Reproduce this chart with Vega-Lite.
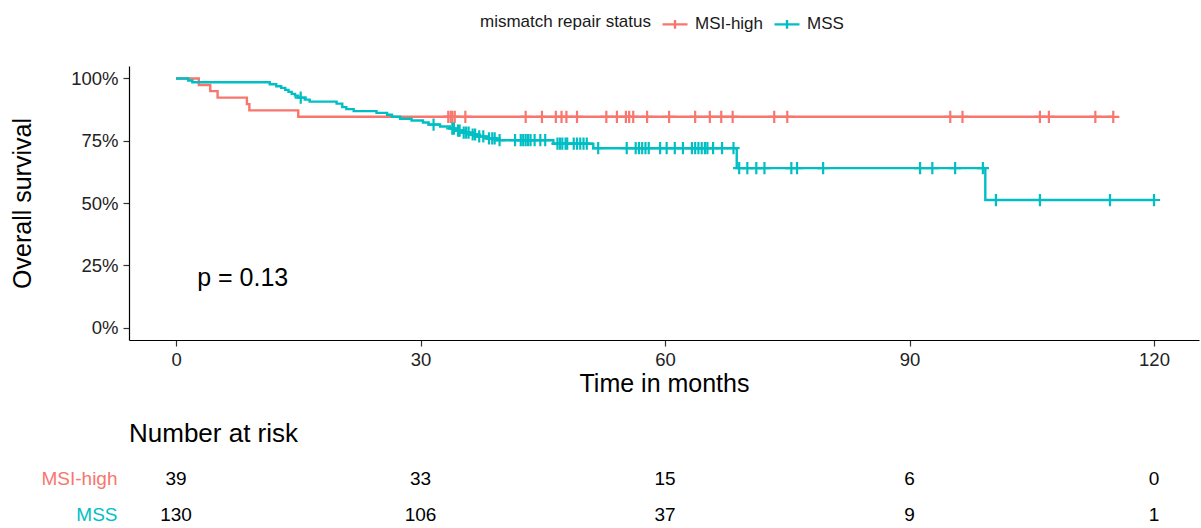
{
  "$schema": "https://vega.github.io/schema/vega-lite/v6.json",
  "background": "white",
  "padding": {"left": 10, "top": 10, "right": 2, "bottom": 4},
  "bounds": "flush",
  "spacing": 129.5,
  "config": {
    "font": "Liberation Sans",
    "view": {"stroke": null},
    "axis": {
      "grid": false,
      "domainColor": "#000000",
      "domainWidth": 1.2,
      "tickColor": "#333333",
      "tickWidth": 1.2,
      "tickSize": 6,
      "labelColor": "#222222",
      "labelFontSize": 18.5,
      "titleColor": "#000000",
      "titleFontSize": 25,
      "titleFontWeight": "normal"
    },
    "legend": {
      "labelFontSize": 17,
      "titleFontSize": 17,
      "titleFontWeight": "normal",
      "labelColor": "#1a1a1a",
      "titleColor": "#1a1a1a"
    }
  },
  "datasets": {
    "curves": [
      {"group": "MSI-high", "time": 0, "surv": 1.0},
      {"group": "MSI-high", "time": 2.8, "surv": 0.974},
      {"group": "MSI-high", "time": 4.2, "surv": 0.949},
      {"group": "MSI-high", "time": 5.1, "surv": 0.923},
      {"group": "MSI-high", "time": 8.7, "surv": 0.897},
      {"group": "MSI-high", "time": 9.0, "surv": 0.872},
      {"group": "MSI-high", "time": 15.0, "surv": 0.846},
      {"group": "MSI-high", "time": 115.0, "surv": 0.846},
      {"group": "MSS", "time": 0, "surv": 1.0},
      {"group": "MSS", "time": 1.5, "surv": 0.992},
      {"group": "MSS", "time": 2.0, "surv": 0.985},
      {"group": "MSS", "time": 11.5, "surv": 0.977},
      {"group": "MSS", "time": 12.3, "surv": 0.969},
      {"group": "MSS", "time": 12.9, "surv": 0.962},
      {"group": "MSS", "time": 13.4, "surv": 0.954},
      {"group": "MSS", "time": 13.8, "surv": 0.946},
      {"group": "MSS", "time": 14.2, "surv": 0.938},
      {"group": "MSS", "time": 14.6, "surv": 0.931},
      {"group": "MSS", "time": 15.0, "surv": 0.923},
      {"group": "MSS", "time": 15.8, "surv": 0.915},
      {"group": "MSS", "time": 16.4, "surv": 0.907},
      {"group": "MSS", "time": 19.7, "surv": 0.899},
      {"group": "MSS", "time": 20.4, "surv": 0.885},
      {"group": "MSS", "time": 20.9, "surv": 0.877},
      {"group": "MSS", "time": 21.8, "surv": 0.869},
      {"group": "MSS", "time": 24.6, "surv": 0.862},
      {"group": "MSS", "time": 25.9, "surv": 0.854},
      {"group": "MSS", "time": 26.5, "surv": 0.846},
      {"group": "MSS", "time": 27.5, "surv": 0.838},
      {"group": "MSS", "time": 28.9, "surv": 0.831},
      {"group": "MSS", "time": 30.3, "surv": 0.823},
      {"group": "MSS", "time": 31.0, "surv": 0.815},
      {"group": "MSS", "time": 32.4, "surv": 0.807},
      {"group": "MSS", "time": 33.6, "surv": 0.799},
      {"group": "MSS", "time": 34.3, "surv": 0.791},
      {"group": "MSS", "time": 35.0, "surv": 0.783},
      {"group": "MSS", "time": 36.0, "surv": 0.775},
      {"group": "MSS", "time": 36.9, "surv": 0.767},
      {"group": "MSS", "time": 38.1, "surv": 0.759},
      {"group": "MSS", "time": 39.4, "surv": 0.752},
      {"group": "MSS", "time": 46.3, "surv": 0.738},
      {"group": "MSS", "time": 51.2, "surv": 0.720},
      {"group": "MSS", "time": 68.8, "surv": 0.640},
      {"group": "MSS", "time": 99.3, "surv": 0.512},
      {"group": "MSS", "time": 120.0, "surv": 0.512}
    ],
    "censors": [
      {"group": "MSI-high", "time": 33.4, "surv": 0.846},
      {"group": "MSI-high", "time": 33.7, "surv": 0.846},
      {"group": "MSI-high", "time": 33.9, "surv": 0.846},
      {"group": "MSI-high", "time": 34.2, "surv": 0.846},
      {"group": "MSI-high", "time": 35.5, "surv": 0.846},
      {"group": "MSI-high", "time": 42.9, "surv": 0.846},
      {"group": "MSI-high", "time": 44.9, "surv": 0.846},
      {"group": "MSI-high", "time": 46.6, "surv": 0.846},
      {"group": "MSI-high", "time": 47.3, "surv": 0.846},
      {"group": "MSI-high", "time": 47.9, "surv": 0.846},
      {"group": "MSI-high", "time": 49.2, "surv": 0.846},
      {"group": "MSI-high", "time": 52.8, "surv": 0.846},
      {"group": "MSI-high", "time": 54.1, "surv": 0.846},
      {"group": "MSI-high", "time": 55.2, "surv": 0.846},
      {"group": "MSI-high", "time": 55.6, "surv": 0.846},
      {"group": "MSI-high", "time": 56.1, "surv": 0.846},
      {"group": "MSI-high", "time": 57.8, "surv": 0.846},
      {"group": "MSI-high", "time": 60.5, "surv": 0.846},
      {"group": "MSI-high", "time": 63.7, "surv": 0.846},
      {"group": "MSI-high", "time": 65.5, "surv": 0.846},
      {"group": "MSI-high", "time": 66.9, "surv": 0.846},
      {"group": "MSI-high", "time": 68.3, "surv": 0.846},
      {"group": "MSI-high", "time": 73.4, "surv": 0.846},
      {"group": "MSI-high", "time": 75.0, "surv": 0.846},
      {"group": "MSI-high", "time": 95.0, "surv": 0.846},
      {"group": "MSI-high", "time": 96.5, "surv": 0.846},
      {"group": "MSI-high", "time": 106.0, "surv": 0.846},
      {"group": "MSI-high", "time": 107.1, "surv": 0.846},
      {"group": "MSI-high", "time": 112.8, "surv": 0.846},
      {"group": "MSI-high", "time": 115.0, "surv": 0.846},
      {"group": "MSS", "time": 15.3, "surv": 0.923},
      {"group": "MSS", "time": 31.6, "surv": 0.815},
      {"group": "MSS", "time": 33.9, "surv": 0.799},
      {"group": "MSS", "time": 34.1, "surv": 0.799},
      {"group": "MSS", "time": 34.6, "surv": 0.791},
      {"group": "MSS", "time": 34.8, "surv": 0.791},
      {"group": "MSS", "time": 35.3, "surv": 0.783},
      {"group": "MSS", "time": 35.6, "surv": 0.783},
      {"group": "MSS", "time": 35.9, "surv": 0.783},
      {"group": "MSS", "time": 36.4, "surv": 0.775},
      {"group": "MSS", "time": 36.7, "surv": 0.775},
      {"group": "MSS", "time": 37.2, "surv": 0.767},
      {"group": "MSS", "time": 37.7, "surv": 0.767},
      {"group": "MSS", "time": 38.4, "surv": 0.759},
      {"group": "MSS", "time": 38.8, "surv": 0.759},
      {"group": "MSS", "time": 39.1, "surv": 0.759},
      {"group": "MSS", "time": 39.7, "surv": 0.752},
      {"group": "MSS", "time": 41.6, "surv": 0.752},
      {"group": "MSS", "time": 42.3, "surv": 0.752},
      {"group": "MSS", "time": 42.6, "surv": 0.752},
      {"group": "MSS", "time": 42.9, "surv": 0.752},
      {"group": "MSS", "time": 43.2, "surv": 0.752},
      {"group": "MSS", "time": 43.5, "surv": 0.752},
      {"group": "MSS", "time": 44.0, "surv": 0.752},
      {"group": "MSS", "time": 44.7, "surv": 0.752},
      {"group": "MSS", "time": 45.3, "surv": 0.752},
      {"group": "MSS", "time": 46.8, "surv": 0.738},
      {"group": "MSS", "time": 47.1, "surv": 0.738},
      {"group": "MSS", "time": 47.4, "surv": 0.738},
      {"group": "MSS", "time": 47.8, "surv": 0.738},
      {"group": "MSS", "time": 48.0, "surv": 0.738},
      {"group": "MSS", "time": 48.8, "surv": 0.738},
      {"group": "MSS", "time": 49.2, "surv": 0.738},
      {"group": "MSS", "time": 49.6, "surv": 0.738},
      {"group": "MSS", "time": 50.0, "surv": 0.738},
      {"group": "MSS", "time": 50.4, "surv": 0.738},
      {"group": "MSS", "time": 51.8, "surv": 0.720},
      {"group": "MSS", "time": 55.3, "surv": 0.720},
      {"group": "MSS", "time": 56.4, "surv": 0.720},
      {"group": "MSS", "time": 56.8, "surv": 0.720},
      {"group": "MSS", "time": 57.2, "surv": 0.720},
      {"group": "MSS", "time": 57.6, "surv": 0.720},
      {"group": "MSS", "time": 58.0, "surv": 0.720},
      {"group": "MSS", "time": 59.4, "surv": 0.720},
      {"group": "MSS", "time": 60.2, "surv": 0.720},
      {"group": "MSS", "time": 61.2, "surv": 0.720},
      {"group": "MSS", "time": 62.2, "surv": 0.720},
      {"group": "MSS", "time": 63.3, "surv": 0.720},
      {"group": "MSS", "time": 63.7, "surv": 0.720},
      {"group": "MSS", "time": 64.1, "surv": 0.720},
      {"group": "MSS", "time": 64.5, "surv": 0.720},
      {"group": "MSS", "time": 64.9, "surv": 0.720},
      {"group": "MSS", "time": 65.2, "surv": 0.720},
      {"group": "MSS", "time": 65.9, "surv": 0.720},
      {"group": "MSS", "time": 67.0, "surv": 0.720},
      {"group": "MSS", "time": 68.4, "surv": 0.720},
      {"group": "MSS", "time": 69.1, "surv": 0.640},
      {"group": "MSS", "time": 70.1, "surv": 0.640},
      {"group": "MSS", "time": 71.2, "surv": 0.640},
      {"group": "MSS", "time": 72.2, "surv": 0.640},
      {"group": "MSS", "time": 75.5, "surv": 0.640},
      {"group": "MSS", "time": 76.2, "surv": 0.640},
      {"group": "MSS", "time": 79.4, "surv": 0.640},
      {"group": "MSS", "time": 91.3, "surv": 0.640},
      {"group": "MSS", "time": 92.8, "surv": 0.640},
      {"group": "MSS", "time": 95.6, "surv": 0.640},
      {"group": "MSS", "time": 99.0, "surv": 0.640},
      {"group": "MSS", "time": 100.6, "surv": 0.512},
      {"group": "MSS", "time": 106.0, "surv": 0.512},
      {"group": "MSS", "time": 114.6, "surv": 0.512},
      {"group": "MSS", "time": 120.0, "surv": 0.512}
    ],
    "risk": [
      {"group": "MSI-high", "time": 0, "n": 39},
      {"group": "MSI-high", "time": 30, "n": 33},
      {"group": "MSI-high", "time": 60, "n": 15},
      {"group": "MSI-high", "time": 90, "n": 6},
      {"group": "MSI-high", "time": 120, "n": 0},
      {"group": "MSS", "time": 0, "n": 130},
      {"group": "MSS", "time": 30, "n": 106},
      {"group": "MSS", "time": 60, "n": 37},
      {"group": "MSS", "time": 90, "n": 9},
      {"group": "MSS", "time": 120, "n": 1}
    ]
  },
  "vconcat": [
    {
      "width": 1070,
      "height": 274,
      "layer": [
        {
          "data": {"name": "curves"},
          "mark": {"type": "line", "interpolate": "step-after", "strokeWidth": 2.4},
          "encoding": {
            "x": {
              "field": "time",
              "type": "quantitative",
              "scale": {"domain": [-5.77, 125.52], "nice": false, "zero": false},
              "axis": {"values": [0, 30, 60, 90, 120], "title": "Time in months", "labelPadding": 4, "titlePadding": 3}
            },
            "y": {
              "field": "surv",
              "type": "quantitative",
              "scale": {"domain": [-0.05, 1.05], "nice": false, "zero": false},
              "axis": {"values": [0, 0.25, 0.5, 0.75, 1], "format": ".0%", "title": "Overall survival", "labelPadding": 5, "titlePadding": 35}
            },
            "color": {
              "field": "group",
              "type": "nominal",
              "scale": {"domain": ["MSI-high", "MSS"], "range": ["#F8766D", "#00BFC4"]},
              "legend": {
                "title": "mismatch repair status",
                "orient": "none",
                "direction": "horizontal",
                "titleOrient": "left",
                "legendX": 351,
                "legendY": -56,
                "symbolType": "M-1,0L1,0M0,-0.35L0,0.35",
                "symbolSize": 625,
                "symbolStrokeWidth": 2.4,
                "symbolFillColor": "transparent",
                "labelOffset": 6,
                "columnPadding": 5,
                "titlePadding": 10
              }
            }
          }
        },
        {
          "data": {"name": "censors"},
          "mark": {"type": "point", "shape": "M-1,0L1,0M0,-1L0,1", "size": 150, "strokeWidth": 2.2, "filled": false, "opacity": 1},
          "encoding": {
            "x": {"field": "time", "type": "quantitative"},
            "y": {"field": "surv", "type": "quantitative"},
            "color": {"field": "group", "type": "nominal"}
          }
        },
        {
          "data": {"values": [{"label": "p = 0.13"}]},
          "mark": {"type": "text", "align": "left", "baseline": "middle", "fontSize": 25, "color": "#000000"},
          "encoding": {
            "x": {"datum": 2.6},
            "y": {"datum": 0.2},
            "text": {"field": "label"}
          }
        }
      ]
    },
    {
      "width": 1070,
      "height": 54,
      "data": {"name": "risk"},
      "title": {"text": "Number at risk", "anchor": "start", "frame": "group", "fontSize": 26, "fontWeight": "normal", "color": "#000000", "offset": 23},
      "mark": {"type": "text", "fontSize": 19, "color": "#000000", "baseline": "middle"},
      "encoding": {
        "x": {
          "field": "time",
          "type": "quantitative",
          "scale": {"domain": [-5.77, 125.52], "nice": false, "zero": false},
          "axis": null
        },
        "y": {
          "field": "group",
          "type": "nominal",
          "scale": {"type": "point", "domain": ["MSI-high", "MSS"], "padding": 0.25},
          "axis": {
            "title": null,
            "domain": false,
            "ticks": false,
            "labelPadding": 12,
            "labelFontSize": 19,
            "labelColor": {"condition": {"test": "datum.value === 'MSS'", "value": "#00BFC4"}, "value": "#F8766D"}
          }
        },
        "text": {"field": "n", "type": "quantitative"}
      }
    }
  ]
}
